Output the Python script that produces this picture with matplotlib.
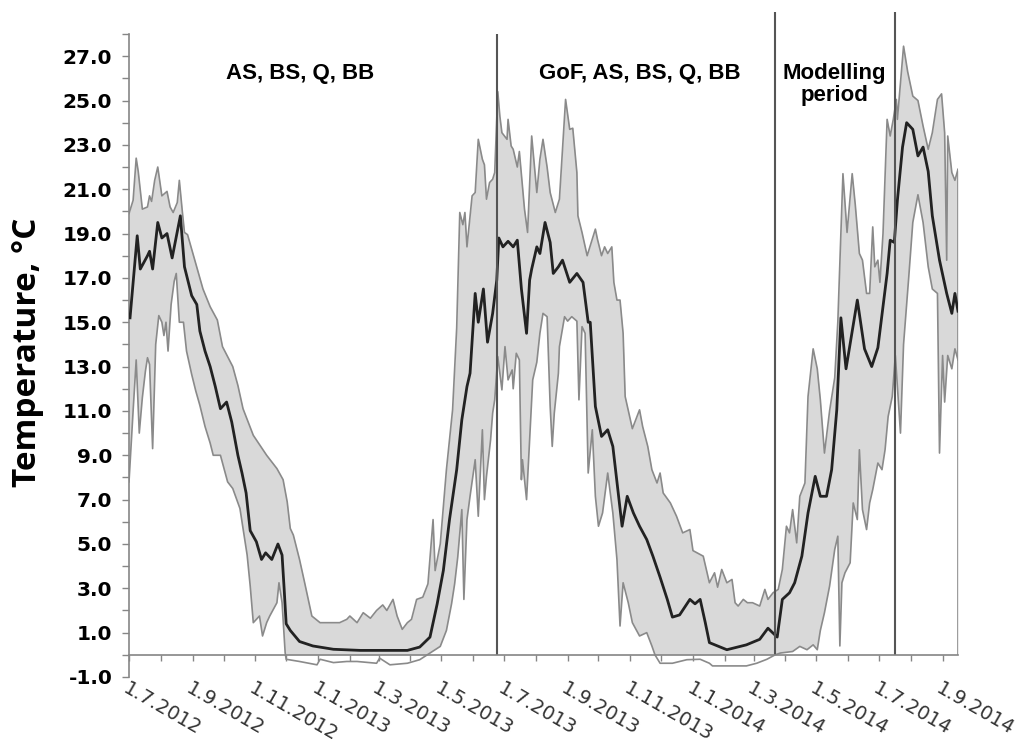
import numpy as np
import pandas as pd
import matplotlib
matplotlib.use("Agg")
import matplotlib.pyplot as plt
import matplotlib.dates as mdates
from matplotlib.ticker import FixedLocator, FuncFormatter

# Daily water temperature: spatial mean with min-max envelope (days counted from 1.7.2012)
start = pd.Timestamp("2012-07-01")

mean_days = [1, 8, 11, 18, 20, 23, 28, 32, 37, 42,
             50, 54, 61, 66, 69, 74, 79, 84, 89, 95,
             100, 106, 110, 114, 118, 124, 129, 133, 139, 145,
             149, 151, 153, 157, 166, 179, 199, 225, 254, 271,
             283, 293, 300, 306, 312, 319, 324, 329, 332, 337,
             340, 345, 349, 354, 358, 360, 364, 369, 374, 378,
             382, 387, 390, 392, 397, 400, 405, 410, 413, 418,
             422, 429, 436, 442, 447, 449, 454, 460, 466, 471,
             480, 485, 491, 497, 504, 510, 517, 524, 529, 536,
             546, 551, 556, 561, 565, 582, 601, 614, 622, 631,
             636, 643, 648, 655, 661, 668, 673, 679, 684, 689,
             693, 698, 709, 716, 723, 729, 738, 741, 745, 748,
             753, 757, 763, 768, 773, 778, 782, 789, 796, 801,
             804, 807]
mean_vals = [15.2, 18.9, 17.4, 18.0, 18.2, 17.4, 19.5, 18.8, 19.0, 17.9,
             19.8, 17.5, 16.2, 15.8, 14.6, 13.7, 13.0, 12.1, 11.1, 11.4,
             10.5, 9.0, 8.2, 7.3, 5.6, 5.1, 4.3, 4.6, 4.3, 5.0,
             4.5, 3.0, 1.4, 1.1, 0.6, 0.4, 0.25, 0.2, 0.2, 0.2,
             0.35, 0.8, 2.3, 3.8, 6.1, 8.35, 10.6, 12.1, 12.7, 16.3,
             15.0, 16.5, 14.1, 15.4, 16.9, 18.8, 18.4, 18.65, 18.4, 18.7,
             16.5, 14.5, 16.9, 17.4, 18.4, 18.1, 19.5, 18.6, 17.2, 17.5,
             17.8, 16.8, 17.2, 16.8, 15.0, 15.0, 11.2, 9.85, 10.15, 9.4,
             5.8, 7.15, 6.4, 5.8, 5.2, 4.45, 3.5, 2.5, 1.7, 1.8,
             2.5, 2.3, 2.5, 1.45, 0.55, 0.23, 0.45, 0.7, 1.2, 0.8,
             2.5, 2.8, 3.25, 4.45, 6.4, 8.05, 7.15, 7.15, 8.35, 11.05,
             15.2, 12.9, 16.0, 13.8, 13.0, 13.85, 17.2, 18.7, 18.6, 20.5,
             22.9, 24.0, 23.7, 22.5, 22.9, 21.8, 19.8, 17.8, 16.3, 15.4,
             16.3, 15.5]

max_days = [0, 4, 7, 9, 13, 18, 20, 22, 25, 28,
            32, 37, 40, 43, 47, 49, 52, 54, 57, 61,
            66, 72, 79, 86, 91, 96, 101, 106, 111, 121,
            134, 144, 150, 154, 157, 160, 166, 171, 178, 186,
            196, 205, 212, 215, 222, 228, 235, 241, 247, 251,
            257, 261, 266, 271, 275, 280, 286, 291, 296, 298,
            303, 309, 315, 319, 322, 325, 327, 329, 334, 337,
            340, 344, 346, 348, 351, 354, 356, 359, 361, 363,
            368, 369, 372, 374, 378, 380, 383, 385, 388, 392,
            397, 400, 403, 407, 410, 415, 419, 422, 425, 429,
            432, 436, 437, 441, 446, 451, 454, 456, 460, 463,
            466, 470, 472, 475, 478, 481, 483, 488, 490, 497,
            500, 505, 509, 514, 517, 520, 527, 533, 539, 546,
            549, 559, 565, 570, 573, 577, 582, 587, 590, 593,
            598, 602, 607, 614, 619, 622, 627, 632, 636, 640,
            643, 646, 650, 653, 658, 661, 666, 670, 673, 677,
            682, 687, 690, 695, 699, 704, 707, 711, 714, 718,
            721, 724, 726, 729, 731, 734, 738, 741, 744, 747,
            748, 754, 758, 763, 768, 773, 778, 782, 787, 791,
            794, 796, 797, 801, 804, 807]
max_vals = [19.9, 20.5, 22.4, 21.8, 20.1, 20.2, 20.7, 20.45, 21.4, 22.0,
            20.7, 20.9, 20.2, 19.95, 20.4, 21.4, 19.95, 19.05, 18.95, 18.3,
            17.5, 16.5, 15.7, 15.1, 13.9, 13.45, 13.0, 12.15, 11.1, 9.9,
            9.0, 8.4, 7.9, 6.9, 5.7, 5.4, 4.3, 3.25, 1.75, 1.45,
            1.45, 1.45, 1.6, 1.75, 1.45, 1.9, 1.65, 2.0, 2.25, 2.0,
            2.5, 1.75, 1.15, 1.45, 1.6, 2.5, 2.6, 3.2, 6.1, 3.8,
            5.0, 8.35, 11.05, 14.75, 19.95, 19.4, 19.95, 18.4, 20.7, 20.85,
            23.25, 22.35, 22.1, 20.55, 21.3, 21.45, 21.75, 25.4, 24.3, 23.55,
            23.25, 24.15, 22.95, 22.8, 22.0, 22.7, 21.15, 20.1, 19.05, 23.4,
            20.85, 22.35, 23.25, 22.0, 20.85, 19.95, 20.55, 22.8, 25.05, 23.7,
            23.75, 21.75, 19.8, 19.05, 18.0, 18.75, 19.2, 18.75, 18.0, 18.4,
            18.1, 18.4, 16.8, 16.0, 16.0, 14.5, 11.65, 10.6, 10.2, 11.05,
            10.3, 9.4, 8.35, 7.75, 8.2, 7.3, 6.85, 6.25, 5.5, 5.65,
            4.7, 4.45, 3.25, 3.7, 3.05, 3.85, 3.25, 3.4, 2.35, 2.2,
            2.5, 2.35, 2.35, 2.2, 2.95, 2.5, 2.8, 2.95, 3.85, 5.8,
            5.5, 6.55, 5.05, 7.15, 7.75, 11.65, 13.8, 12.9, 11.5, 9.1,
            11.0, 12.5, 15.0, 21.7, 19.05, 21.7, 20.3, 18.1, 17.8, 16.3,
            16.3, 19.3, 17.5, 17.8, 16.8, 19.0, 24.15, 23.4, 24.15, 25.05,
            24.15, 27.45, 26.3, 25.2, 25.0, 23.85, 22.8, 23.55, 25.05, 25.3,
            23.55, 17.8, 23.4, 21.75, 21.4, 21.9]

min_days = [0, 4, 7, 10, 13, 16, 18, 20, 23, 26,
            29, 32, 34, 36, 38, 41, 44, 46, 49, 53,
            56, 61, 65, 69, 74, 79, 82, 89, 96, 101,
            108, 115, 118, 121, 127, 130, 134, 137, 144, 146,
            149, 152, 153, 166, 183, 186, 199, 212, 222, 241,
            244, 254, 271, 283, 293, 303, 309, 314, 317, 320,
            324, 326, 329, 332, 337, 340, 344, 346, 348, 352,
            354, 356, 359, 363, 366, 369, 373, 374, 377, 380,
            382, 383, 387, 390, 393, 397, 400, 403, 407, 410,
            412, 414, 418, 419, 424, 427, 431, 436, 438, 441,
            444, 447, 451, 454, 457, 461, 466, 471, 475, 478,
            481, 486, 490, 497, 504, 509, 512, 517, 529, 543,
            556, 565, 568, 601, 611, 621, 629, 634, 646, 653,
            660, 666, 670, 673, 677, 682, 687, 690, 692, 694,
            697, 702, 705, 709, 711, 714, 718, 721, 724, 729,
            733, 736, 739, 743, 746, 751, 754, 759, 763, 768,
            773, 778, 782, 787, 789, 792, 794, 797, 801, 804,
            807]
min_vals = [7.8, 11.0, 13.3, 10.0, 11.6, 12.8, 13.4, 13.1, 9.3, 14.0,
            15.3, 15.0, 14.4, 15.0, 13.7, 15.8, 16.85, 17.2, 15.0, 15.0,
            13.7, 12.65, 11.9, 11.25, 10.3, 9.55, 9.0, 9.0, 7.8, 7.5,
            6.6, 4.5, 3.1, 1.45, 1.75, 0.85, 1.45, 1.75, 2.35, 3.25,
            2.35, 0.1, -0.2, -0.3, -0.45, -0.2, -0.35, -0.3, -0.3, -0.38,
            -0.15, -0.45, -0.38, -0.22, 0.08, 0.38, 1.1, 2.3, 3.2, 4.4,
            6.55, 2.5, 6.1, 7.15, 8.8, 6.25, 10.15, 7.0, 8.05, 9.7,
            10.9, 11.5, 13.45, 11.95, 13.9, 12.4, 12.85, 12.0, 13.6, 13.3,
            7.9, 8.8, 7.0, 9.7, 12.4, 13.2, 14.5, 15.4, 15.25, 11.2,
            9.4, 10.9, 12.7, 13.9, 15.25, 15.05, 15.25, 15.05, 11.5, 14.8,
            14.5, 8.2, 10.15, 7.15, 5.8, 6.4, 8.2, 6.4, 4.3, 1.3,
            3.25, 2.35, 1.45, 0.85, 1.0, 0.4, 0.0, -0.38, -0.38, -0.22,
            -0.2, -0.38, -0.5, -0.5, -0.38, -0.2, 0.0, 0.08, 0.15, 0.38,
            0.23, 0.45, 0.23, 1.1, 1.9, 3.1, 4.75, 5.35, 0.4, 3.25,
            3.7, 4.15, 6.85, 6.1, 9.25, 6.55, 5.65, 6.85, 7.45, 8.65,
            8.35, 9.25, 10.75, 11.65, 13.5, 10.0, 14.0, 17.0, 19.5, 20.75,
            19.5, 17.5, 16.5, 16.3, 9.1, 13.5, 11.4, 13.5, 12.9, 13.8,
            13.3]

# period boundaries
boundary_dates = ["2013-06-24", "2014-03-22", "2014-07-17"]
boundary_tops = [28, 29, 29]

period_labels = ["AS, BS, Q, BB", "GoF, AS, BS, Q, BB", "Modelling\nperiod"]
period_label_dates = ["2012-12-15", "2013-11-10", "2014-05-19"]

y_ticks = np.arange(-1, 28, 2)

base = mdates.date2num(start)
mean_x = base + np.array(mean_days, dtype=float)
max_x = base + np.array(max_days, dtype=float)
min_x = base + np.array(min_days, dtype=float)
mean_y = np.array(mean_vals)
max_y = np.array(max_vals)
min_y = np.array(min_vals)

fig = plt.figure(figsize=(10.25, 7.45), dpi=100)
ax = fig.add_axes([129 / 1025, 1 - 677 / 745, 829 / 1025, 643 / 745])

band_color = "#d9d9d9"
edge_color = "#8a8a8a"
axis_color = "#868686"

# area-style envelope: grey up to the max, white up to the min
ax.fill_between(max_x, 0, max_y, color=band_color, lw=0, zorder=1)
ax.fill_between(min_x, 0, min_y, where=min_y > 0, interpolate=True,
                color="white", lw=0, zorder=1.1)
ax.plot(max_x, max_y, color=edge_color, lw=1.2, zorder=2)
ax.plot(min_x, min_y, color=edge_color, lw=1.2, zorder=2)
ax.vlines(max_x[-1], 0, max_y[-1], color=edge_color, lw=1.2, zorder=2)
ax.plot(mean_x, mean_y, color="#222222", lw=2.0, zorder=3)

bx = mdates.date2num(pd.to_datetime(boundary_dates))
ax.vlines(bx, 0, boundary_tops, color="#555555", lw=1.5, zorder=5, clip_on=False)

for lab, d in zip(period_labels, period_label_dates):
    ax.text(mdates.date2num(pd.Timestamp(d)), 26.7, lab, ha="center", va="top",
            fontsize=16, fontweight="bold", family="Liberation Sans",
            linespacing=1.1, zorder=6)

ax.set_xlim(base, base + 807)
ax.set_ylim(-1, 28)

for s in ["top", "right"]:
    ax.spines[s].set_visible(False)
ax.spines["left"].set_color(axis_color)
ax.spines["left"].set_linewidth(1.2)
ax.spines["bottom"].set_position(("data", 0))
ax.spines["bottom"].set_color(axis_color)
ax.spines["bottom"].set_linewidth(1.2)
ax.spines["bottom"].set_zorder(6)

ax.set_yticks(y_ticks)
ax.set_yticklabels([f"{v:.1f}" for v in y_ticks])
ax.yaxis.set_minor_locator(FixedLocator(np.arange(0, 29, 2)))
ax.tick_params(axis="y", which="both", direction="out", length=5, width=1,
               color=axis_color, labelsize=14.5, pad=7)
for lbl in ax.get_yticklabels():
    lbl.set_fontweight("bold")

ax.xaxis_date()
ax.xaxis.set_major_locator(mdates.MonthLocator(bymonth=[1, 3, 5, 7, 9, 11]))
ax.xaxis.set_minor_locator(mdates.MonthLocator(bymonth=[2, 4, 6, 8, 10, 12]))


def fmt_date(x, pos=None):
    d = mdates.num2date(x)
    return f"{d.day}.{d.month}.{d.year}"


ax.xaxis.set_major_formatter(FuncFormatter(fmt_date))
ax.tick_params(axis="x", which="both", direction="out", length=4.5, width=1,
               color=axis_color, labelsize=14, labelcolor="#333333", pad=13)
for lbl in ax.get_xticklabels():
    lbl.set_rotation(-30)
    lbl.set_ha("left")
    lbl.set_va("top")
    lbl.set_rotation_mode("anchor")

fig.text(28 / 1025, 1 - 352 / 745, "Temperature, °C", rotation=90,
         ha="center", va="center", fontsize=24, fontweight="bold",
         family="Open Sans")

fig.savefig("out.png", dpi=100)
